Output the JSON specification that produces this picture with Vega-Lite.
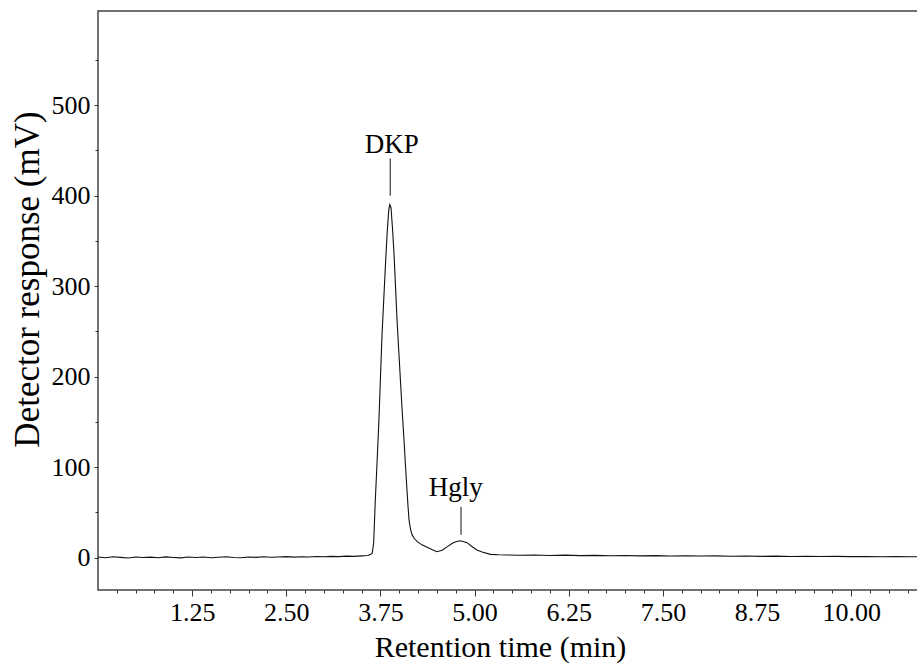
{
  "$schema": "https://vega.github.io/schema/vega-lite/v6.json",
  "width": 830,
  "height": 579,
  "autosize": "none",
  "padding": {"left": 98, "top": 11, "right": 0, "bottom": 82},
  "background": "white",
  "config": {
    "view": {"stroke": "#444", "strokeWidth": 1.5},
    "font": "Liberation Serif",
    "axis": {"grid": false, "domain": false, "tickColor": "#333", "labelColor": "#000", "titleColor": "#000", "labelFont": "Liberation Serif", "titleFont": "Liberation Serif", "titleFontWeight": "normal"}
  },
  "datasets": {
    "trace": [
      {"t": 0.0, "v": 0.5}, {"t": 0.1, "v": -0.3}, {"t": 0.2, "v": 0.8}, {"t": 0.3, "v": 0.2}, {"t": 0.4, "v": -0.5},
      {"t": 0.5, "v": 0.6}, {"t": 0.6, "v": 0.0}, {"t": 0.7, "v": 0.4}, {"t": 0.8, "v": -0.2}, {"t": 0.9, "v": 0.7},
      {"t": 1.0, "v": 0.1}, {"t": 1.1, "v": -0.4}, {"t": 1.2, "v": 0.5}, {"t": 1.3, "v": 0.0}, {"t": 1.4, "v": 0.6},
      {"t": 1.5, "v": -0.2}, {"t": 1.6, "v": 0.3}, {"t": 1.7, "v": 0.8}, {"t": 1.8, "v": 0.1}, {"t": 1.9, "v": -0.3},
      {"t": 2.0, "v": 0.5}, {"t": 2.1, "v": 0.2}, {"t": 2.2, "v": 0.9}, {"t": 2.3, "v": 0.3}, {"t": 2.4, "v": 0.6},
      {"t": 2.5, "v": 1.0}, {"t": 2.6, "v": 0.4}, {"t": 2.7, "v": 0.9}, {"t": 2.8, "v": 0.6}, {"t": 2.9, "v": 1.2},
      {"t": 3.0, "v": 0.8}, {"t": 3.1, "v": 1.3}, {"t": 3.2, "v": 1.0}, {"t": 3.3, "v": 1.5}, {"t": 3.4, "v": 1.3},
      {"t": 3.5, "v": 1.8}, {"t": 3.58, "v": 2.2}, {"t": 3.62, "v": 3.5},
      {"t": 3.64, "v": 4.6}, {"t": 3.66, "v": 15.7}, {"t": 3.68, "v": 60}, {"t": 3.705, "v": 105}, {"t": 3.73, "v": 152},
      {"t": 3.75, "v": 198}, {"t": 3.77, "v": 244}, {"t": 3.795, "v": 287}, {"t": 3.82, "v": 329}, {"t": 3.84, "v": 360},
      {"t": 3.86, "v": 384}, {"t": 3.874, "v": 390}, {"t": 3.89, "v": 387}, {"t": 3.91, "v": 364}, {"t": 3.93, "v": 336},
      {"t": 3.95, "v": 300}, {"t": 3.97, "v": 263}, {"t": 3.995, "v": 226}, {"t": 4.02, "v": 189}, {"t": 4.04, "v": 160},
      {"t": 4.06, "v": 134}, {"t": 4.08, "v": 105}, {"t": 4.10, "v": 78}, {"t": 4.115, "v": 58}, {"t": 4.13, "v": 41},
      {"t": 4.15, "v": 31}, {"t": 4.17, "v": 25}, {"t": 4.2, "v": 21}, {"t": 4.24, "v": 17.5}, {"t": 4.3, "v": 14},
      {"t": 4.37, "v": 11.3}, {"t": 4.44, "v": 8.5}, {"t": 4.5, "v": 6.4}, {"t": 4.57, "v": 8}, {"t": 4.64, "v": 12},
      {"t": 4.7, "v": 15.5}, {"t": 4.75, "v": 17.5}, {"t": 4.81, "v": 18.5}, {"t": 4.86, "v": 17.5}, {"t": 4.9, "v": 16.4},
      {"t": 4.96, "v": 12.5}, {"t": 5.03, "v": 8.3}, {"t": 5.1, "v": 6}, {"t": 5.21, "v": 3.5}, {"t": 5.32, "v": 3.0},
      {"t": 5.43, "v": 2.8}, {"t": 5.6, "v": 2.5}, {"t": 5.8, "v": 2.8}, {"t": 6.0, "v": 2.3}, {"t": 6.2, "v": 2.6},
      {"t": 6.4, "v": 2.1}, {"t": 6.6, "v": 2.4}, {"t": 6.8, "v": 2.0}, {"t": 7.0, "v": 2.2}, {"t": 7.2, "v": 1.8},
      {"t": 7.4, "v": 2.1}, {"t": 7.6, "v": 1.7}, {"t": 7.8, "v": 1.9}, {"t": 8.0, "v": 1.6}, {"t": 8.2, "v": 1.8},
      {"t": 8.4, "v": 1.4}, {"t": 8.6, "v": 1.7}, {"t": 8.8, "v": 1.3}, {"t": 9.0, "v": 1.5}, {"t": 9.2, "v": 1.2},
      {"t": 9.4, "v": 1.4}, {"t": 9.6, "v": 1.1}, {"t": 9.8, "v": 1.3}, {"t": 10.0, "v": 1.0}, {"t": 10.2, "v": 1.2},
      {"t": 10.4, "v": 0.9}, {"t": 10.6, "v": 1.1}, {"t": 10.8, "v": 0.8}, {"t": 11.0, "v": 1.0}
    ],
    "labels": [
      {"label": "DKP", "t": 3.88, "lineFrom": 400, "lineTo": 441, "textT": 3.9, "textY": 447},
      {"label": "Hgly", "t": 4.82, "lineFrom": 25, "lineTo": 56, "textT": 4.75, "textY": 68}
    ]
  },
  "layer": [
    {
      "data": {"name": "trace"},
      "mark": {"type": "line", "color": "#111", "strokeWidth": 1.1, "clip": true},
      "encoding": {
        "x": {
          "field": "t", "type": "quantitative",
          "scale": {"domain": [0, 11.02], "nice": false, "zero": false},
          "axis": {
            "orient": "bottom",
            "values": [1.25, 2.5, 3.75, 5, 6.25, 7.5, 8.75, 10],
            "format": ".2f",
            "tickSize": 6,
            "labelFontSize": 26,
            "labelPadding": 3,
            "title": "Retention time (min)",
            "titleFontSize": 30,
            "titleX": 402,
            "titleY": 57,
            "titleBaseline": "middle"
          }
        },
        "y": {
          "field": "v", "type": "quantitative",
          "scale": {"domain": [-35.9, 604.1], "nice": false, "zero": false},
          "axis": {
            "orient": "left",
            "values": [0, 100, 200, 300, 400, 500],
            "tickSize": 4,
            "labelFontSize": 26,
            "labelPadding": 4,
            "title": "Detector response (mV)",
            "titleFontSize": 35,
            "titleX": -71,
            "titleY": 268,
            "titleBaseline": "middle",
            "titleAngle": -90
          }
        }
      }
    },
    {
      "data": {"name": "labels"},
      "mark": {"type": "rule", "color": "#111", "strokeWidth": 1},
      "encoding": {
        "x": {
          "field": "t", "type": "quantitative",
          "axis": {
            "orient": "bottom",
            "values": [0.25, 0.5, 0.75, 1, 1.5, 1.75, 2, 2.25, 2.75, 3, 3.25, 3.5, 4, 4.25, 4.5, 4.75, 5.25, 5.5, 5.75, 6, 6.5, 6.75, 7, 7.25, 7.75, 8, 8.25, 8.5, 9, 9.25, 9.5, 9.75, 10.25, 10.5, 10.75, 11],
            "tickSize": 3,
            "labels": false,
            "title": null
          }
        },
        "y": {
          "field": "lineFrom", "type": "quantitative",
          "axis": {
            "orient": "left",
            "values": [50, 150, 250, 350, 450, 550],
            "tickSize": 3,
            "labels": false,
            "title": null
          }
        },
        "y2": {"field": "lineTo"}
      }
    },
    {
      "data": {"name": "labels"},
      "mark": {"type": "text", "font": "Liberation Serif", "fontSize": 27, "color": "#000", "align": "center", "baseline": "alphabetic"},
      "encoding": {
        "x": {"field": "textT", "type": "quantitative", "axis": null},
        "y": {"field": "textY", "type": "quantitative", "axis": null},
        "text": {"field": "label"}
      }
    }
  ],
  "resolve": {"axis": {"x": "independent", "y": "independent"}}
}
